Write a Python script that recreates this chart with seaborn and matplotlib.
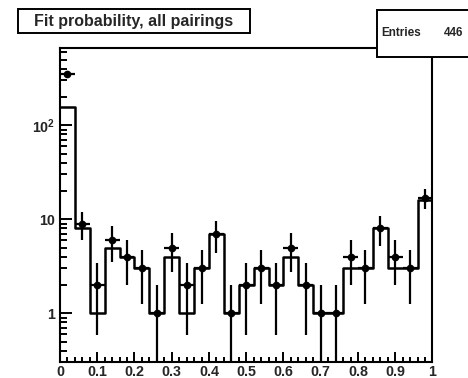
import numpy as np
import pandas as pd
import matplotlib
matplotlib.use("Agg")
import matplotlib.pyplot as plt
import seaborn as sns
from matplotlib.patches import Rectangle
from matplotlib.ticker import MultipleLocator, LogLocator, FixedFormatter, FixedLocator

# Fit probability histogram: 25 bins of width 0.04 on [0, 1]
bin_edges = np.linspace(0.0, 1.0, 26)
bin_centers = 0.5 * (bin_edges[:-1] + bin_edges[1:])

# Reference distribution drawn as a step outline
ref_counts = [156, 8, 1, 5, 4, 3, 1, 4, 1, 3, 7, 1, 2,
              3, 2, 4, 2, 1, 1, 3, 3, 8, 3, 3, 16]

# Data points (446 entries), shown with Poisson errors
data_counts = [348, 9, 2, 6, 4, 3, 1, 5, 2, 3, 7, 1, 2,
               3, 2, 5, 2, 1, 1, 4, 3, 8, 4, 3, 17]

title_text = "Fit probability, all pairings"
entries_label = "Entries"
entries_value = "446"

x_tick_values = [0, 0.1, 0.2, 0.3, 0.4, 0.5, 0.6, 0.7, 0.8, 0.9, 1.0]
x_tick_labels = ["0", "0.1", "0.2", "0.3", "0.4", "0.5", "0.6", "0.7", "0.8", "0.9", "1"]
y_tick_values = [1, 10, 100]
y_tick_labels = ["1", "10", r"10$^{2}$"]

sns.set_theme(style="white")
plt.rcParams["font.family"] = ["Liberation Sans", "DejaVu Sans"]
plt.rcParams["mathtext.fontset"] = "custom"
plt.rcParams["mathtext.rm"] = "Liberation Sans:bold"
plt.rcParams["mathtext.it"] = "Liberation Sans:bold"
plt.rcParams["mathtext.bf"] = "Liberation Sans:bold"

fig = plt.figure(figsize=(4.68, 3.78), dpi=100)
fig.patch.set_facecolor("white")
ax = fig.add_axes([60 / 468, 1 - 362 / 378, (432.5 - 60) / 468, (362 - 47.7) / 378])

df = pd.DataFrame({"x": bin_centers, "ref": ref_counts})
sns.histplot(data=df, x="x", weights="ref", binwidth=0.04, binrange=(0, 1),
             element="step", fill=False, color="black", linewidth=1.8, ax=ax)

ax.set_yscale("log", nonpositive="clip")
ymin, ymax = 0.304, 668
counts = np.array(data_counts, dtype=float)
err = np.sqrt(counts)
lower = np.minimum(err, counts - ymin * 0.999)
ax.errorbar(bin_centers, counts, yerr=[lower, err], xerr=0.02, fmt="o",
            color="black", ms=4.5, elinewidth=1.6, capsize=0, zorder=3)

ax.set_xlim(0, 1)
ax.set_ylim(ymin, ymax)
ax.set_xlabel("")
ax.set_ylabel("")

for side in ["left", "bottom", "top", "right"]:
    ax.spines[side].set_color("black")
    ax.spines[side].set_linewidth(1.5)

ax.xaxis.set_major_locator(FixedLocator(x_tick_values))
ax.xaxis.set_major_formatter(FixedFormatter(x_tick_labels))
ax.xaxis.set_minor_locator(MultipleLocator(0.02))
ax.yaxis.set_major_locator(FixedLocator(y_tick_values))
ax.yaxis.set_major_formatter(FixedFormatter(y_tick_labels))
ax.yaxis.set_minor_locator(LogLocator(base=10, subs=np.arange(2, 10)))
ax.yaxis.set_minor_formatter(FixedFormatter([]))

ax.tick_params(axis="both", which="both", direction="in", color="black",
               left=True, bottom=True, right=False, top=False)
ax.tick_params(axis="x", which="major", length=7.2, width=1.4, pad=1.8,
               labelsize=10.3)
ax.tick_params(axis="x", which="minor", length=3.6, width=1.4)
ax.tick_params(axis="y", which="major", length=8.6, width=1.4, pad=3.5,
               labelsize=10.3)
ax.tick_params(axis="y", which="minor", length=4.8, width=1.4)
for lab in ax.get_xticklabels() + ax.get_yticklabels():
    lab.set_fontweight("bold")

# Title box
fig.add_artist(Rectangle((17.5 / 468, 1 - 33 / 378), (250 - 17.5) / 468, (33 - 9.5) / 378,
                         transform=fig.transFigure, facecolor="white",
                         edgecolor="black", linewidth=1.4, zorder=10))
fig.text(134 / 468, 1 - 21.3 / 378, title_text, ha="center", va="center",
         fontsize=11.5, fontweight="bold", zorder=11)

# Statistics box
fig.add_artist(Rectangle((377.3 / 468, 1 - 56.7 / 378), 100 / 468, (56.7 - 10) / 378,
                         transform=fig.transFigure, facecolor="white",
                         edgecolor="black", linewidth=1.4, zorder=10,
                         clip_on=False))
fig.text(381.5 / 468, 1 - 33.3 / 378, entries_label, ha="left", va="center",
         fontsize=8.5, fontweight="bold", zorder=11)
fig.text(463 / 468, 1 - 33.3 / 378, entries_value, ha="right", va="center",
         fontsize=8.5, fontweight="bold", zorder=11)

fig.savefig("out.png", dpi=100, facecolor="white")
